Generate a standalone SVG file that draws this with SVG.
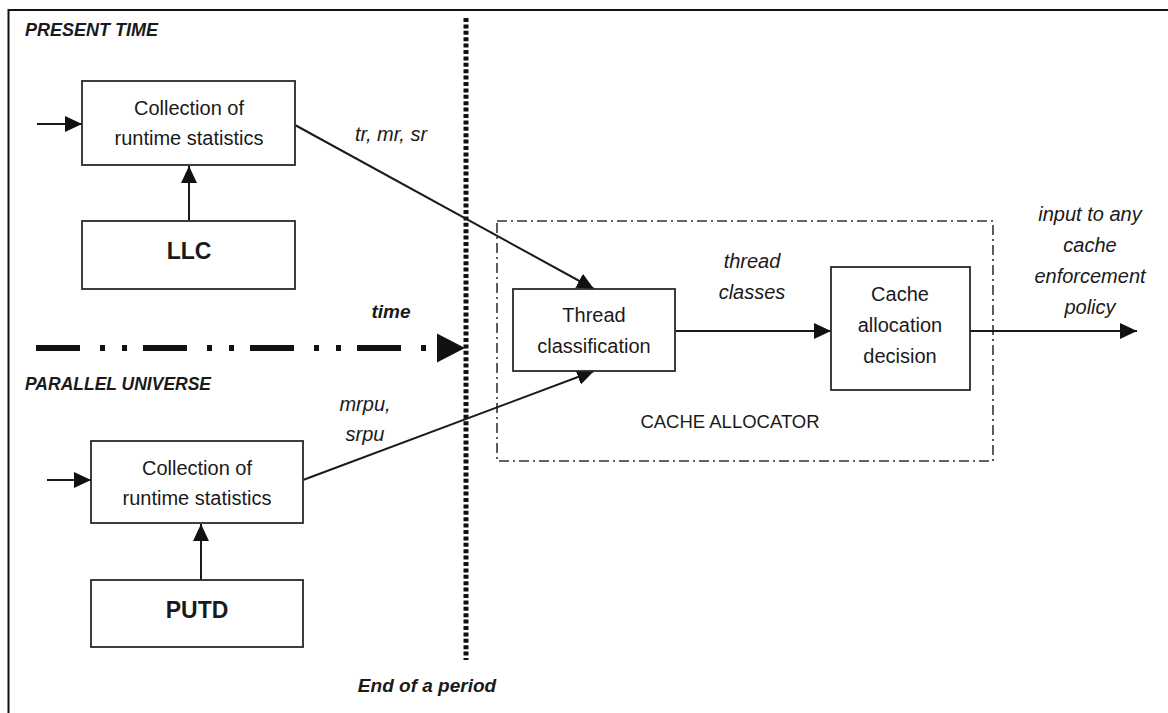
<svg xmlns="http://www.w3.org/2000/svg" width="1168" height="713" viewBox="0 0 1168 713">
<style>
.box{fill:#fff;stroke:#2a2a2a;stroke-width:1.8}
.t{font-family:"Liberation Sans",Arial,sans-serif;fill:#1a1a1a;text-anchor:middle}
.n{font-size:20px}
.i{font-size:20px;font-style:italic}
.bi{font-size:18px;font-style:italic;font-weight:bold}
.b{font-size:23px;font-weight:bold}
.ln{stroke:#1a1a1a;stroke-width:2;fill:none}
</style>
<defs>
<marker id="ah" markerUnits="userSpaceOnUse" markerWidth="19" markerHeight="17" refX="17" refY="8" orient="auto">
<path d="M0,0 L17,8 L0,16 z" fill="#111"/>
</marker>
</defs>
<rect width="1168" height="713" fill="#fff"/>
<path d="M8.5,713 V10 H1168" fill="none" stroke="#111" stroke-width="2"/>

<text class="t bi" x="25" y="36" style="text-anchor:start">PRESENT TIME</text>
<text class="t bi" x="25" y="390" style="text-anchor:start;font-size:17.5px">PARALLEL UNIVERSE</text>
<text class="t bi" x="391" y="318" style="font-size:19px">time</text>
<text class="t bi" x="427" y="692" style="font-size:19px">End of a period</text>

<g id="period-line">
<line x1="466" y1="18" x2="466" y2="660" stroke="#111" stroke-width="5" stroke-dasharray="4 2.4"/>
</g>

<g id="time-arrow">
<line x1="36" y1="348" x2="438" y2="348" stroke="#111" stroke-width="6" stroke-dasharray="44 20 5 17 5 16"/>
<path d="M437,333.5 L465,348 L437,362.5 z" fill="#111"/>
</g>

<g id="cache-allocator">
<rect x="497" y="221" width="496" height="240" fill="none" stroke="#333" stroke-width="1.6" stroke-dasharray="10 4 2 4"/>
<text class="t n" x="730" y="428" style="font-size:18.5px">CACHE ALLOCATOR</text>
</g>

<g id="connectors">
<line class="ln" x1="37" y1="124" x2="82" y2="124" marker-end="url(#ah)"/>
<line class="ln" x1="189" y1="221" x2="189" y2="166" marker-end="url(#ah)"/>
<line class="ln" x1="47" y1="480" x2="91" y2="480" marker-end="url(#ah)"/>
<line class="ln" x1="201" y1="580" x2="201" y2="524" marker-end="url(#ah)"/>
<line class="ln" x1="295" y1="125" x2="594" y2="289" marker-end="url(#ah)"/>
<line class="ln" x1="303" y1="480" x2="594" y2="371" marker-end="url(#ah)"/>
<line class="ln" x1="675" y1="331" x2="831" y2="331" marker-end="url(#ah)"/>
<line class="ln" x1="970" y1="331" x2="1137" y2="331" marker-end="url(#ah)"/>
<text class="t i" x="391" y="141">tr, mr, sr</text>
<text class="t i" x="365" y="411">mrpu,</text>
<text class="t i" x="365" y="441">srpu</text>
<text class="t i" x="752" y="268">thread</text>
<text class="t i" x="752" y="299">classes</text>
<text class="t i" x="1090" y="221">input to any</text>
<text class="t i" x="1090" y="252">cache</text>
<text class="t i" x="1090" y="283">enforcement</text>
<text class="t i" x="1090" y="314">policy</text>
</g>

<g id="collect-present">
<rect class="box" x="82" y="81" width="213" height="84"/>
<text class="t n" x="189" y="115">Collection of</text>
<text class="t n" x="189" y="145">runtime statistics</text>
</g>
<g id="llc">
<rect class="box" x="82" y="221" width="213" height="68"/>
<text class="t b" x="189" y="259">LLC</text>
</g>
<g id="collect-parallel">
<rect class="box" x="91" y="441" width="212" height="82"/>
<text class="t n" x="197" y="475">Collection of</text>
<text class="t n" x="197" y="505">runtime statistics</text>
</g>
<g id="putd">
<rect class="box" x="91" y="580" width="212" height="67"/>
<text class="t b" x="197" y="618">PUTD</text>
</g>
<g id="thread-classification">
<rect class="box" x="513" y="289" width="162" height="82"/>
<text class="t n" x="594" y="322">Thread</text>
<text class="t n" x="594" y="353">classification</text>
</g>
<g id="cache-decision">
<rect class="box" x="831" y="267" width="139" height="123"/>
<text class="t n" x="900" y="301">Cache</text>
<text class="t n" x="900" y="332">allocation</text>
<text class="t n" x="900" y="363">decision</text>
</g>
</svg>
